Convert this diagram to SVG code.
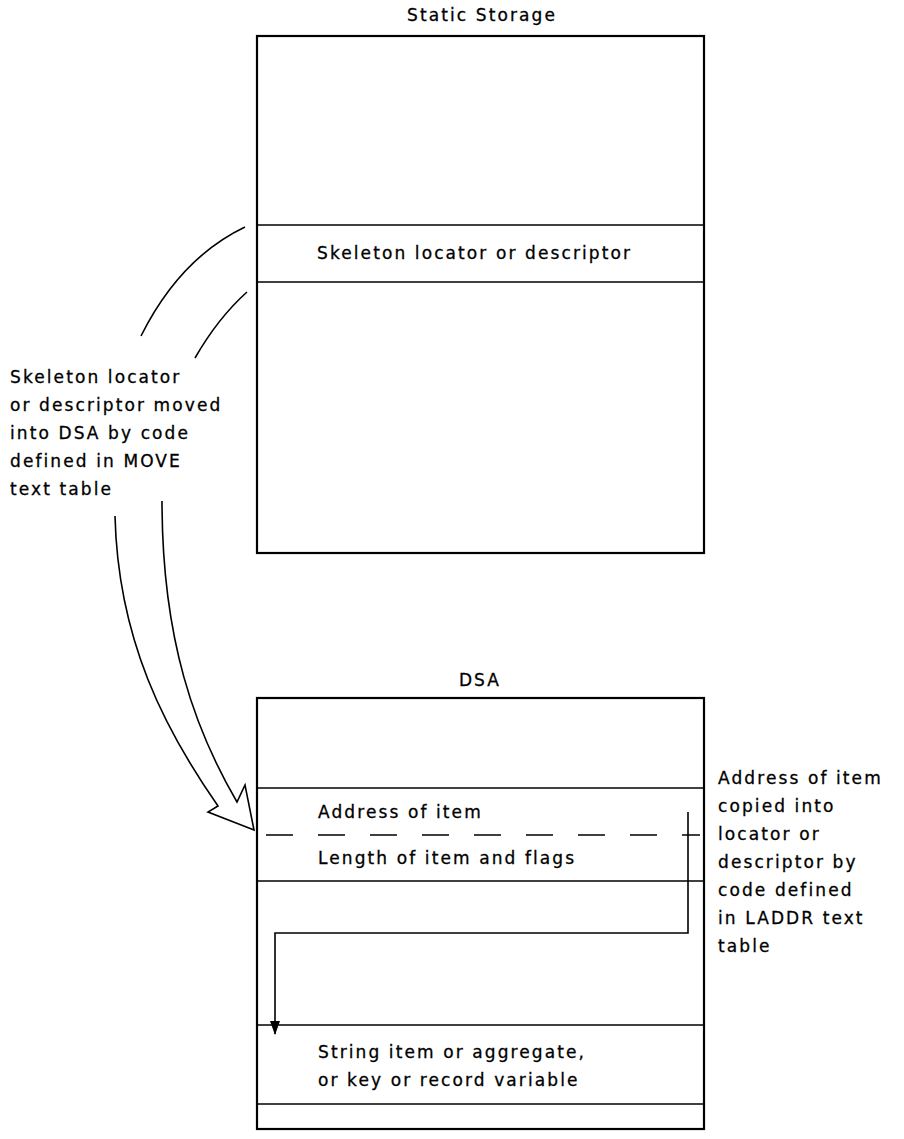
<svg xmlns="http://www.w3.org/2000/svg" width="904" height="1139" viewBox="0 0 904 1139">
<style>
  .t { font-family: "DejaVu Sans", "Liberation Sans", sans-serif; font-size: 17px; letter-spacing: 2.1px; fill: #000; stroke: #000; stroke-width: 0.3; }
  .box { fill: #fff; stroke: #000; stroke-width: 2.2; }
  .div { stroke: #000; stroke-width: 1.6; fill: none; }
  .ln { stroke: #000; stroke-width: 1.6; fill: none; }
</style>
<defs>
  <marker id="ah" viewBox="0 0 14 10" refX="13" refY="5" markerWidth="14" markerHeight="10" markerUnits="userSpaceOnUse" orient="auto">
    <path d="M0,0 L14,5 L0,10 Z" fill="#000"/>
  </marker>
</defs>
<rect width="904" height="1139" fill="#fff"/>

<g id="static-storage">
  <text class="t" x="482" y="21" text-anchor="middle">Static Storage</text>
  <rect class="box" x="257" y="36" width="447" height="517"/>
  <line class="div" x1="257" y1="225" x2="704" y2="225"/>
  <line class="div" x1="257" y1="282" x2="704" y2="282"/>
  <text class="t" x="317" y="259">Skeleton locator or descriptor</text>
</g>

<g id="move-note">
  <text class="t" x="10" y="383">Skeleton locator</text>
  <text class="t" x="10" y="411">or descriptor moved</text>
  <text class="t" x="10" y="439">into DSA by code</text>
  <text class="t" x="10" y="467">defined in MOVE</text>
  <text class="t" x="10" y="495">text table</text>
</g>

<g id="dsa">
  <text class="t" x="480" y="686" text-anchor="middle">DSA</text>
  <rect class="box" x="257" y="698" width="447" height="431"/>
  <line class="div" x1="257" y1="788" x2="704" y2="788"/>
  <line class="div" x1="266" y1="835" x2="700" y2="835" stroke-dasharray="27 25"/>
  <line class="div" x1="257" y1="881" x2="704" y2="881"/>
  <line class="div" x1="257" y1="1025" x2="704" y2="1025"/>
  <line class="div" x1="257" y1="1104" x2="704" y2="1104"/>
  <text class="t" x="318" y="818">Address of item</text>
  <text class="t" x="318" y="864">Length of item and flags</text>
  <text class="t" x="318" y="1058">String item or aggregate,</text>
  <text class="t" x="318" y="1086">or key or record variable</text>
</g>

<g id="laddr-note">
  <text class="t" x="718" y="784">Address of item</text>
  <text class="t" x="718" y="812">copied into</text>
  <text class="t" x="718" y="840">locator or</text>
  <text class="t" x="718" y="868">descriptor by</text>
  <text class="t" x="718" y="896">code defined</text>
  <text class="t" x="718" y="924">in LADDR text</text>
  <text class="t" x="718" y="952">table</text>
</g>

<g id="connectors">
  <path class="ln" d="M245,227 Q180,258 141,336"/>
  <path class="ln" d="M247,292 Q218,318 195,358"/>
  <path class="ln" d="M115,516 C118,640 165,730 218,806 L208,812 L254,830 L245,785 L237,802 C195,730 162,640 162,501"/>
  <path class="ln" d="M688,812 V933 H275 V1034" marker-end="url(#ah)"/>
</g>
</svg>
